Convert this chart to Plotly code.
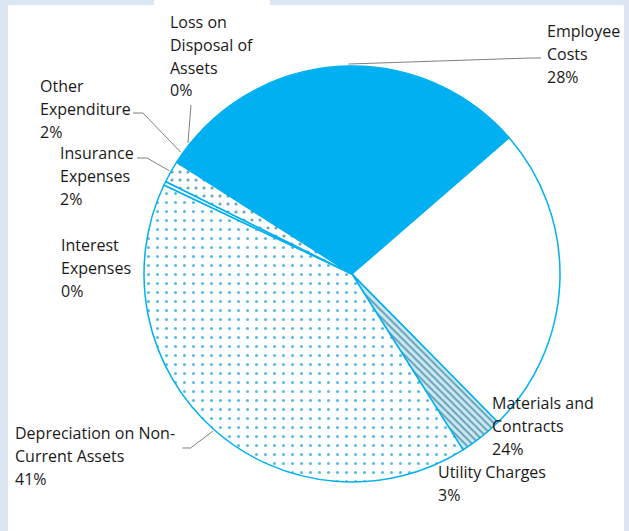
import plotly.graph_objects as go
import numpy as np

W, H = 629, 531

# data
labels = ["Employee Costs", "Materials and Contracts", "Utility Charges",
          "Depreciation on Non-Current Assets", "Interest Expenses",
          "Insurance Expenses", "Other Expenditure", "Loss on Disposal of Assets"]
values = [27.8, 24.0, 3.4, 41.0, 0.3, 1.7, 1.6, 0.2]
label_lines = [["Employee", "Costs"], ["Materials and", "Contracts"], ["Utility Charges"],
               ["Depreciation on Non-", "Current Assets"], ["Interest", "Expenses"],
               ["Insurance", "Expenses"], ["Other", "Expenditure"],
               ["Loss on", "Disposal of", "Assets"]]

# styles
BLUE = "#00B0F0"
fill_colors = [BLUE, "white", "#c9e9f6", "white", "white", "white", BLUE, BLUE]
pattern_shapes = ["", "", "\\", ".", "", ".", "", ""]
pattern_fg = [BLUE, BLUE, "#6d9fb0", "#55bde6", BLUE, "#6aa6bd", BLUE, BLUE]
pattern_size = [8, 8, 5, 9, 8, 8, 8, 8]
pattern_solid = [0.3, 0.3, 0.4, 0.09, 0.3, 0.12, 0.3, 0.3]

# pie geometry in pixels
CX, CY, R = 352, 274, 208
ROTATION = -51
LINE_GAP = 22.8

# label first-line (left, centre y) in px and leader elbows
label_pos = {
    "Employee Costs": (545, 31),
    "Materials and Contracts": (490, 403),
    "Utility Charges": (436, 472),
    "Depreciation on Non-Current Assets": (13, 433),
    "Interest Expenses": (59, 245),
    "Insurance Expenses": (58, 153),
    "Other Expenditure": (38, 86),
    "Loss on Disposal of Assets": (168, 22),
}
leaders = {
    "Employee Costs": [(541, 58), (530, 58)],
    "Other Expenditure": [(133, 113), (143, 113)],
    "Insurance Expenses": [(137, 158), (147, 158)],
    "Loss on Disposal of Assets": [(191, 105)],
    "Depreciation on Non-Current Assets": [(182.5, 448), (190.5, 448)],
}


def px(x):
    return x / W


def py(y):
    return 1 - y / H


total = sum(values)
cum = np.cumsum([0] + values[:-1])
mid_deg = ROTATION + 360 * (cum + np.array(values) / 2) / total

fig = go.Figure()
fig.add_trace(go.Pie(
    labels=labels, values=values, sort=False, direction="clockwise",
    rotation=ROTATION, textinfo="none", hoverinfo="label+percent",
    showlegend=False,
    marker=dict(
        colors=fill_colors,
        line=dict(color=BLUE, width=1.5),
        pattern=dict(shape=pattern_shapes, fgcolor=pattern_fg, bgcolor=fill_colors,
                     size=pattern_size, solidity=pattern_solid),
    ),
    domain=dict(x=[px(CX - R), px(CX + R)], y=[py(CY + R), py(CY - R)]),
))

shapes = [
    dict(type="rect", xref="paper", yref="paper", x0=px(8), x1=px(624), y0=py(531), y1=py(5),
         fillcolor="white", line=dict(width=0), layer="below"),
    dict(type="rect", xref="paper", yref="paper", x0=px(154), x1=px(270), y0=py(5), y1=py(0),
         fillcolor="white", line=dict(width=0), layer="below"),
]

annotations = []
for i, name in enumerate(labels):
    pct = values[i] / total * 100
    x0, y0 = label_pos[name]
    for k, line in enumerate(label_lines[i] + [f"{pct:.0f}%"]):
        annotations.append(dict(
            x=px(x0), y=py(y0 + k * LINE_GAP), xref="paper", yref="paper",
            xanchor="left", yanchor="middle", showarrow=False, text=line,
            font=dict(family="Open Sans", size=16, color="#1a1a1a"),
        ))
    if name in leaders:
        a = np.radians(mid_deg[i])
        ex, ey = CX + 210 * np.sin(a), CY - 210 * np.cos(a)
        pts = leaders[name] + [(ex, ey)]
        path = "M " + " L ".join(f"{px(x):.5f},{py(y):.5f}" for x, y in pts)
        shapes.append(dict(type="path", xref="paper", yref="paper", path=path,
                           line=dict(color="#7f7f7f", width=1), layer="above"))

fig.update_layout(
    width=W, height=H, margin=dict(l=0, r=0, t=0, b=0),
    paper_bgcolor="#DCE6F2",
    shapes=shapes, annotations=annotations,
)

fig.write_html("out.html", config={"displayModeBar": False},
               post_script="document.body.style.margin='0';")
